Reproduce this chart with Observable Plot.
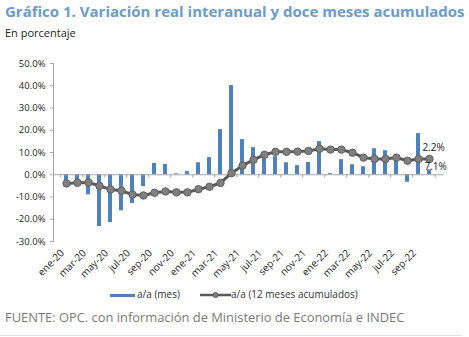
<!DOCTYPE html>
<html>
<head>
<meta charset="utf-8">
<script src="https://cdn.jsdelivr.net/npm/d3@7"></script>
<script src="https://cdn.jsdelivr.net/npm/@observablehq/plot@0.6"></script>
<style>
  body { margin: 0; background: #fff; }
  #wrap { position: relative; width: 469px; height: 337px; overflow: hidden; font-family: "Open Sans", sans-serif; }
  .title { position: absolute; left: 5px; top: 1px; font-size: 15px; font-weight: 700; color: #6a9cc9; white-space: nowrap; }
  .sub { position: absolute; left: 5px; top: 25px; font-size: 11px; color: #222; }
  #chart { position: absolute; left: 0; top: 45px; }
  .legend { position: absolute; top: 287px; left: 0; width: 469px; font-size: 10px; color: #333; }
  .legend span { position: absolute; white-space: nowrap; }
  .footer { position: absolute; left: 5px; top: 308px; font-size: 12.9px; color: #7a7a7a; white-space: nowrap; }
  .rule { position: absolute; left: 0; top: 335px; width: 462px; height: 1px; background: #e2e2e2; }
</style>
</head>
<body>
<div id="wrap">
  <div class="title">Gráfico 1. Variación real interanual y doce meses acumulados</div>
  <div class="sub">En porcentaje</div>
  <div id="chart"></div>
  <div class="legend">
    <span style="left:110px;top:7px;width:25px;height:3px;background:#4f81bd"></span>
    <span style="left:137px;top:0px">a/a (mes)</span>
    <span style="left:200px;top:2px"><svg width="31" height="12"><line x1="0" y1="6" x2="31" y2="6" stroke="#595959" stroke-width="2.5"/><circle cx="15.5" cy="6" r="2.5" fill="#808080" stroke="#595959"/></svg></span>
    <span style="left:231px;top:0px">a/a (12 meses acumulados)</span>
  </div>
  <div class="footer">FUENTE: OPC. con información de Ministerio de Economía e INDEC</div>
  <div class="rule"></div>
</div>
<script>
const months = ["ene-20","feb-20","mar-20","abr-20","may-20","jun-20","jul-20","ago-20","sep-20","oct-20","nov-20","dic-20",
  "ene-21","feb-21","mar-21","abr-21","may-21","jun-21","jul-21","ago-21","sep-21","oct-21","nov-21","dic-21",
  "ene-22","feb-22","mar-22","abr-22","may-22","jun-22","jul-22","ago-22","sep-22","oct-22"];
const mes = [-3.4,-5.4,-9.0,-23.3,-21.5,-16.2,-12.9,-5.3,5.1,4.6,0.4,1.4,
  5.4,7.7,20.3,40.1,15.8,12.2,8.6,8.1,5.4,4.1,5.5,14.9,
  0.5,6.8,4.5,3.6,11.7,10.8,9.0,-3.4,18.5,2.2];
const acum = [-3.9,-3.6,-3.5,-5.0,-6.6,-7.2,-8.9,-9.3,-8.1,-7.5,-7.9,-7.9,
  -6.5,-5.4,-3.7,0.7,4.1,6.7,9.0,10.3,10.3,10.4,10.7,11.7,
  11.3,11.3,9.9,7.7,7.1,7.1,7.7,6.3,7.1,7.1];
const yTicks = [-30,-20,-10,0,10,20,30,40,50];
const xTickLabels = months.filter((d, i) => i % 2 === 0);

const data = months.map((m, i) => ({m, mes: mes[i], acum: acum[i]}));
const last = data[data.length - 1];
const half = 5.7;

const chart = Plot.plot({
  width: 469,
  height: 240,
  marginTop: 18,
  marginBottom: 44,
  marginLeft: 53,
  marginRight: 26,
  style: {fontFamily: "Open Sans, sans-serif", background: "transparent", color: "#262626", overflow: "visible"},
  x: {domain: months, paddingInner: 0.6, paddingOuter: 0.3, label: null},
  y: {domain: [-30, 50], label: null},
  marks: [
    Plot.barY(data, {x: "m", y: "mes", fill: "#4f81bd"}),
    Plot.ruleY([0], {stroke: "#a6a6a6"}),
    Plot.ruleX(xTickLabels, {x: d => d, y1: 0, y2: -1.5, dx: -half, stroke: "#a6a6a6"}),
    Plot.ruleX([last.m], {x: d => d, y1: 0, y2: -1.5, dx: half, stroke: "#a6a6a6"}),
    Plot.frame({anchor: "left", stroke: "#a6a6a6"}),
    Plot.axisY({ticks: yTicks, tickFormat: d => d.toFixed(1) + "%", tickSize: 3, tickPadding: 5, fontSize: 9.5, stroke: "#a6a6a6", fill: "#262626", label: null}),
    Plot.axisX({ticks: xTickLabels, tickSize: 0, tickPadding: 6, tickRotate: -45, fontSize: 10, dx: -4, dy: 4, fill: "#262626", label: null}),
    Plot.line(data, {x: "m", y: "acum", stroke: "#595959", strokeWidth: 3}),
    Plot.dot(data, {x: "m", y: "acum", r: 3.7, fill: "#808080", stroke: "#5f5f5f", strokeWidth: 1}),
    Plot.text([last], {x: "m", y: "acum", text: d => d.mes.toFixed(1) + "%", dx: -7, dy: -11, textAnchor: "start", fontSize: 10, fill: "#222"}),
    Plot.text([last], {x: "m", y: "acum", text: d => d.acum.toFixed(1) + "%", dx: -5, dy: 8, textAnchor: "start", fontSize: 10, fill: "#222"})
  ]
});
document.getElementById("chart").appendChild(chart);
</script>
</body>
</html>
